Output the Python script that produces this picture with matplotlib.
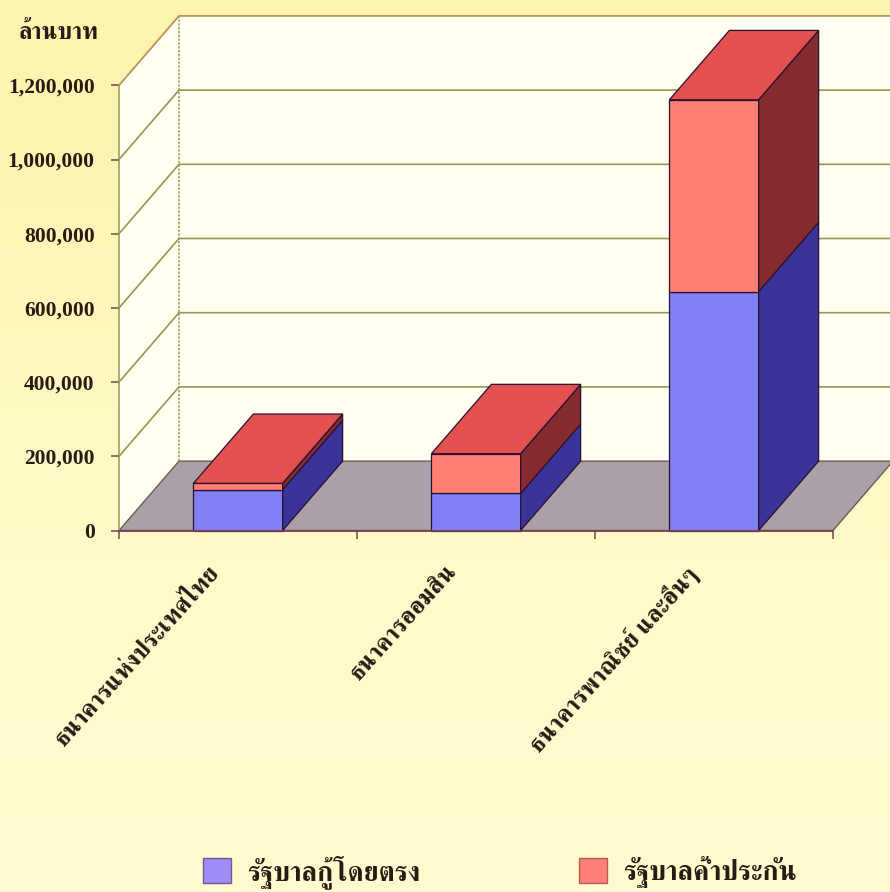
import numpy as np
import matplotlib
matplotlib.use('Agg')
import matplotlib.pyplot as plt
from matplotlib.patches import Polygon, Patch
from matplotlib.transforms import ScaledTranslation

# Datos
categorias = ['ธนาคารแห่งประเทศไทย', 'ธนาคารออมสิน', 'ธนาคารพาณิชย์ และอื่นๆ']
directo = [110000, 100000, 644000]
garantia = [17000, 107000, 517000]
marcas_y = [0, 200000, 400000, 600000, 800000, 1000000, 1200000]
serie_1 = 'รัฐบาลกู้โดยตรง'
serie_2 = 'รัฐบาลค้ำประกัน'
unidad = 'ล้านบาท'

# Profundidad del efecto 3D, en unidades de los ejes
prof_x = 60 / 238
prof_y = 187000
ancho = 0.375

plt.rcParams['font.family'] = ['Liberation Serif', 'FreeSerif']
plt.rcParams['font.weight'] = 'bold'

tinta = '#2B1A14'

fig = plt.figure(figsize=(8.9, 8.92), dpi=100)

# Fondo amarillo con degradado
fondo = fig.add_axes([0, 0, 1, 1], zorder=0)
degradado = np.array([[0.984, 0.953, 0.68], [1.0, 0.98, 0.78], [1.0, 0.985, 0.81]]).reshape(3, 1, 3)
fondo.imshow(degradado, aspect='auto', interpolation='bicubic')
fondo.axis('off')

ax = fig.add_axes([119 / 890, 1 - 530.5 / 892, 714 / 890, 445.2 / 892], zorder=1)
ax.patch.set_alpha(0)
ax.set_xlim(0, 3)
ax.set_ylim(0, 1200000)
for lado in ax.spines.values():
    lado.set_visible(False)

# Paredes y piso
pared = '#FFFEF0'
linea = '#8F9A50'
tope = marcas_y[-1]
ax.add_patch(Polygon([(prof_x, prof_y), (3 + prof_x, prof_y), (3 + prof_x, tope + prof_y), (prof_x, tope + prof_y)],
                     fc=pared, ec='none', clip_on=False, zorder=1))
ax.add_patch(Polygon([(0, 0), (prof_x, prof_y), (prof_x, tope + prof_y), (0, tope)],
                     fc=pared, ec='none', clip_on=False, zorder=1))
ax.add_patch(Polygon([(0, 0), (3, 0), (3 + prof_x, prof_y), (prof_x, prof_y)],
                     fc='#A9A0A8', ec='#6E5A50', lw=1.0, clip_on=False, zorder=2))
for v in marcas_y[1:-1]:
    ax.plot([0, prof_x, 3 + prof_x], [v, v + prof_y, v + prof_y], color=linea, lw=1.2, clip_on=False, zorder=2)
ax.plot([0, prof_x, 3 + prof_x], [tope, tope + prof_y, tope + prof_y], color='#B8935A', lw=1.3, clip_on=False, zorder=2)
ax.plot([0, 0], [0, tope], color=linea, lw=1.1, clip_on=False, zorder=2)
ax.plot([prof_x, prof_x], [prof_y, tope + prof_y], color=linea, lw=1.1, ls=(0, (1.5, 1)), clip_on=False, zorder=2)
ax.plot([0, 3], [0, 0], color='#7A4050', lw=1.3, clip_on=False, zorder=6)


def caja(x, base, alto, frente, lateral, techo=None, borde='#2A1030'):
    izq, der = x - ancho / 2, x + ancho / 2
    cima = base + alto
    ax.add_patch(Polygon([(izq, base), (der, base), (der, cima), (izq, cima)],
                         fc=frente, ec=borde, lw=0.9, zorder=4, clip_on=False))
    ax.add_patch(Polygon([(der, base), (der + prof_x, base + prof_y), (der + prof_x, cima + prof_y), (der, cima)],
                         fc=lateral, ec=borde, lw=0.9, zorder=4, clip_on=False))
    if techo:
        ax.add_patch(Polygon([(izq, cima), (der, cima), (der + prof_x, cima + prof_y), (izq + prof_x, cima + prof_y)],
                             fc=techo, ec=borde, lw=0.9, zorder=4, clip_on=False))


for i in range(len(categorias)):
    caja(i + 0.5, 0, directo[i], '#8080F5', '#3A3398')
    caja(i + 0.5, directo[i], garantia[i], '#FF7F72', '#862C30', '#E25050')

# Ejes
ax.set_yticks(marcas_y)
ax.set_yticklabels([f'{v:,}' for v in marcas_y], fontsize=15.5, color=tinta)
ax.set_xticks([0, 1, 2, 3])
ax.set_xticklabels([])
ax.set_xticks([0.5, 1.5, 2.5], minor=True)
ax.set_xticklabels(categorias, minor=True, rotation=48, ha='right', va='top', rotation_mode='anchor',
                   fontsize=17.5, color=tinta)
ax.tick_params(axis='x', which='minor', length=0, pad=22)
ax.tick_params(axis='both', which='major', length=5.5, width=1.1, color='#7A4050')
ax.tick_params(axis='y', pad=12)
for etiqueta in ax.get_xticklabels(minor=True):
    etiqueta.set_transform(etiqueta.get_transform() + ScaledTranslation(-0.30, 0, fig.dpi_scale_trans))

fig.text(58 / 890, 1 - 33 / 892, unidad, fontsize=17, color=tinta, ha='center', va='center')

fig.legend(handles=[Patch(fc='#A08CF5', ec='#6A5A90', lw=1), Patch(fc='#FF8078', ec='#B06050', lw=1)],
           labels=[serie_1, serie_2], ncol=2, frameon=False, loc='lower left',
           bbox_to_anchor=(179 / 890, -21 / 892), fontsize=19.5, handlelength=1.03, handleheight=1.03,
           columnspacing=5.85, handletextpad=0.6, labelcolor=tinta)

fig.savefig('out.png', dpi=100)
